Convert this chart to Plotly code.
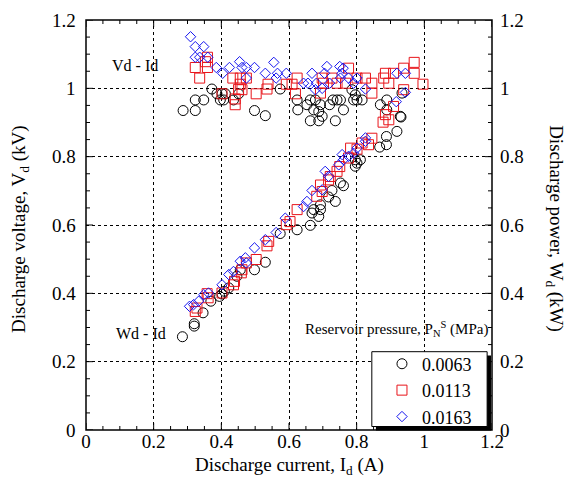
import plotly.graph_objects as go

FONT = "Liberation Serif"

series_names = ["0.0063", "0.0113", "0.0163"]

# Vd - Id data (discharge voltage, kV)
id_v_0063 = [0.287, 0.323, 0.323, 0.348, 0.372, 0.387, 0.402, 0.412, 0.397, 0.407, 0.436, 0.451,
             0.498, 0.530, 0.574, 0.624, 0.626, 0.653, 0.663, 0.678, 0.673, 0.693, 0.688, 0.698,
             0.663, 0.688, 0.720, 0.730, 0.742, 0.752, 0.737, 0.761, 0.786, 0.796, 0.791, 0.801,
             0.816, 0.870, 0.889, 0.889, 0.934, 0.929]
vd_0063 = [0.935, 0.935, 0.966, 0.966, 0.998, 0.984, 0.984, 0.984, 0.966, 0.966, 0.966, 0.984,
           0.935, 0.920, 0.998, 0.966, 0.937, 0.952, 0.966, 0.966, 0.937, 0.952, 0.932, 0.918,
           0.905, 0.905, 0.952, 0.966, 0.966, 0.966, 0.905, 0.937, 0.996, 0.981, 0.966, 0.966,
           0.966, 0.952, 0.966, 0.937, 0.986, 0.918]

id_v_0113 = [0.323, 0.359, 0.353, 0.359, 0.336, 0.434, 0.456, 0.474, 0.456, 0.451, 0.461, 0.402,
             0.441, 0.441, 0.503, 0.535, 0.538, 0.592, 0.609, 0.619, 0.624, 0.698, 0.702, 0.727,
             0.742, 0.767, 0.776, 0.801, 0.826, 0.845, 0.845, 0.693, 0.880, 0.885, 0.895, 0.909,
             0.939, 0.970, 0.970, 0.996, 0.939]
vd_0113 = [1.061, 1.091, 1.078, 1.061, 1.030, 1.030, 1.030, 1.030, 1.012, 0.997, 0.996, 0.984,
           0.969, 0.952, 0.984, 0.998, 1.012, 1.012, 1.012, 0.984, 1.030, 1.030, 1.015, 1.030,
           1.015, 1.015, 1.059, 1.030, 1.030, 1.015, 0.986, 0.986, 1.030, 1.044, 1.015, 1.044,
           1.059, 1.076, 1.044, 1.012, 0.996]

id_v_0163 = [0.309, 0.323, 0.348, 0.323, 0.336, 0.360, 0.385, 0.404, 0.424, 0.454, 0.461, 0.474,
             0.474, 0.498, 0.530, 0.555, 0.566, 0.562, 0.592, 0.643, 0.656, 0.668, 0.681, 0.678,
             0.698, 0.705, 0.712, 0.720, 0.750, 0.760, 0.757, 0.752, 0.776, 0.791, 0.801, 0.826,
             0.919, 0.944, 0.944]
vd_0163 = [1.151, 1.122, 1.122, 1.091, 1.091, 1.091, 1.061, 1.044, 1.061, 1.078, 1.061, 1.061,
           1.030, 1.061, 1.044, 1.076, 1.044, 1.030, 1.044, 1.015, 1.015, 1.044, 1.015, 0.996,
           1.000, 1.044, 1.064, 1.015, 1.064, 1.059, 1.044, 1.030, 1.030, 1.015, 1.030, 0.998,
           1.044, 1.044, 0.988]

# Wd - Id data (discharge power, kW) -- right axis shares the same 0..1.2 scale
id_w_0063 = [0.285, 0.320, 0.320, 0.346, 0.369, 0.395, 0.402, 0.409, 0.422, 0.446, 0.456, 0.498,
             0.530, 0.574, 0.624, 0.663, 0.668, 0.673, 0.688, 0.693, 0.693, 0.717, 0.737, 0.727,
             0.752, 0.761, 0.801, 0.796, 0.811, 0.796, 0.868, 0.888, 0.888, 0.919, 0.931]
wd_0063 = [0.273, 0.311, 0.304, 0.343, 0.377, 0.391, 0.398, 0.406, 0.416, 0.450, 0.469, 0.469,
           0.491, 0.575, 0.586, 0.599, 0.635, 0.645, 0.625, 0.645, 0.659, 0.682, 0.669, 0.701,
           0.723, 0.715, 0.781, 0.791, 0.791, 0.772, 0.828, 0.835, 0.859, 0.874, 0.916]

id_w_0113 = [0.323, 0.328, 0.358, 0.361, 0.402, 0.436, 0.439, 0.459, 0.461, 0.474, 0.503, 0.535,
             0.540, 0.592, 0.603, 0.624, 0.682, 0.698, 0.693, 0.717, 0.722, 0.742, 0.750, 0.776,
             0.782, 0.801, 0.816, 0.835, 0.845, 0.878, 0.895, 0.885, 0.909]
wd_0113 = [0.347, 0.357, 0.399, 0.387, 0.401, 0.425, 0.435, 0.460, 0.469, 0.489, 0.499, 0.539,
           0.552, 0.601, 0.610, 0.645, 0.684, 0.698, 0.717, 0.732, 0.742, 0.757, 0.771, 0.796,
           0.825, 0.822, 0.840, 0.835, 0.854, 0.901, 0.908, 0.923, 0.947]

id_w_0163 = [0.306, 0.318, 0.333, 0.348, 0.362, 0.402, 0.422, 0.436, 0.456, 0.471, 0.474, 0.498,
             0.530, 0.562, 0.589, 0.643, 0.653, 0.668, 0.698, 0.707, 0.717, 0.747, 0.757, 0.761,
             0.776, 0.791, 0.801, 0.826, 0.826, 0.917]
wd_0163 = [0.362, 0.367, 0.377, 0.396, 0.401, 0.425, 0.455, 0.464, 0.494, 0.504, 0.489, 0.533,
           0.557, 0.578, 0.620, 0.654, 0.669, 0.701, 0.703, 0.757, 0.742, 0.776, 0.806, 0.791,
           0.801, 0.810, 0.825, 0.845, 0.855, 0.961]

AXIS_RANGE = [0, 1.2]
MAJOR_STEP = 0.2
MINOR_STEP = 0.05
y_tick_vals = [0, 0.2, 0.4, 0.6, 0.8, 1.0, 1.2]
y_tick_text = ["0", "0.2", "0.4", "0.6", "0.8", "1", "1.2"]

colors = ["black", "#e8141a", "#1414f0"]
symbols = ["circle-open", "square-open", "diamond-open"]
sizes = [10, 10, 8]

v_x = [id_v_0063, id_v_0113, id_v_0163]
v_y = [vd_0063, vd_0113, vd_0163]
w_x = [id_w_0063, id_w_0113, id_w_0163]
w_y = [wd_0063, wd_0113, wd_0163]

fig = go.Figure()
for i, name in enumerate(series_names):
    mk = dict(symbol=symbols[i], color=colors[i], size=sizes[i], line=dict(width=1, color=colors[i]))
    fig.add_trace(go.Scatter(x=v_x[i], y=v_y[i], mode="markers", name=name, marker=mk))
    fig.add_trace(go.Scatter(x=w_x[i], y=w_y[i], mode="markers", name=name, marker=mk,
                             showlegend=False))

axis_common = dict(
    range=AXIS_RANGE, tickmode="linear", tick0=0, dtick=MAJOR_STEP, ticks="",
    showline=False, showgrid=True, gridcolor="black", griddash="3px,3px", gridwidth=1,
    zeroline=False, tickfont=dict(family=FONT, size=19, color="black"),
)

fig.update_layout(
    width=571, height=481,
    margin=dict(l=86, r=79, t=20, b=51),
    paper_bgcolor="white", plot_bgcolor="white",
    font=dict(family=FONT, color="black"),
    xaxis=dict(**axis_common, ticklabelstandoff=-2),
    yaxis=dict(**axis_common, showticklabels=False),
    showlegend=True,
    legend=dict(x=0.729, y=0.206, xanchor="left", yanchor="top",
                bgcolor="rgba(0,0,0,0)", borderwidth=0,
                font=dict(family=FONT, size=18), itemwidth=30),
)

# left (voltage) and right (power) axis labels, same 0..1.2 scale
for v, t in zip(y_tick_vals, y_tick_text):
    fig.add_annotation(text=t, x=0, xref="paper", y=v, yref="y", xanchor="right", xshift=-8,
                       showarrow=False, font=dict(family=FONT, size=19))
    fig.add_annotation(text=t, x=1, xref="paper", y=v, yref="y", xanchor="left", xshift=6,
                       showarrow=False, font=dict(family=FONT, size=19))

# plot frame
fig.add_shape(type="rect", xref="paper", yref="paper", x0=0, x1=1, y0=0, y1=1,
              line=dict(color="black", width=1.5), layer="above")

# inward major/minor ticks on all four sides of the frame
n_steps = int(round((AXIS_RANGE[1] - AXIS_RANGE[0]) / MINOR_STEP))
for k in range(n_steps + 1):
    v = AXIS_RANGE[0] + k * MINOR_STEP
    is_major = k % int(round(MAJOR_STEP / MINOR_STEP)) == 0
    L = 7 if is_major else 4
    tl = dict(color="black", width=1)
    for anchor, sgn in ((0, 1), (1, -1)):
        fig.add_shape(type="line", xref="x", x0=v, x1=v, yref="paper", ysizemode="pixel",
                      yanchor=anchor, y0=0, y1=sgn * L, line=tl, layer="above")
        fig.add_shape(type="line", yref="y", y0=v, y1=v, xref="paper", xsizemode="pixel",
                      xanchor=anchor, x0=0, x1=sgn * L, line=tl, layer="above")

# legend box and its drop shadow
fig.add_shape(type="rect", xref="paper", yref="paper", x0=0.714, x1=0.9975, y0=-0.001, y1=0.1815,
              fillcolor="black", line=dict(width=0), layer="above")
fig.add_shape(type="rect", xref="paper", yref="paper", x0=0.704, x1=0.988, y0=0.0085, y1=0.191,
              fillcolor="white", line=dict(width=1, color="black"), layer="above")

fig.add_annotation(text="Discharge current, I<sub>d</sub> (A)", xref="paper", yref="paper",
                   x=0.5, y=-0.089, yanchor="middle", showarrow=False, font=dict(family=FONT, size=19))
fig.add_annotation(text="Discharge voltage, V<sub>d</sub> (kV)", xref="paper", yref="paper",
                   x=-0.168, y=0.49, xshift=-12, textangle=-90, showarrow=False,
                   font=dict(family=FONT, size=19))
fig.add_annotation(text="Discharge power, W<sub>d</sub> (kW)", xref="paper", yref="paper",
                   x=1.16, y=0.49, xshift=12, textangle=90, showarrow=False,
                   font=dict(family=FONT, size=19))
fig.add_annotation(text="Vd - Id", x=0.145, y=1.066, xref="x", yref="y", showarrow=False,
                   font=dict(family=FONT, size=16))
fig.add_annotation(text="Wd - Id", x=0.163, y=0.283, xref="x", yref="y", showarrow=False,
                   font=dict(family=FONT, size=16))
fig.add_annotation(text="Reservoir pressure, P<sub>N</sub><sup>S</sup> (MPa)", x=1.195, y=0.295,
                   xref="x", yref="y", xanchor="right", showarrow=False,
                   font=dict(family=FONT, size=15))

fig.write_html("out.html")
